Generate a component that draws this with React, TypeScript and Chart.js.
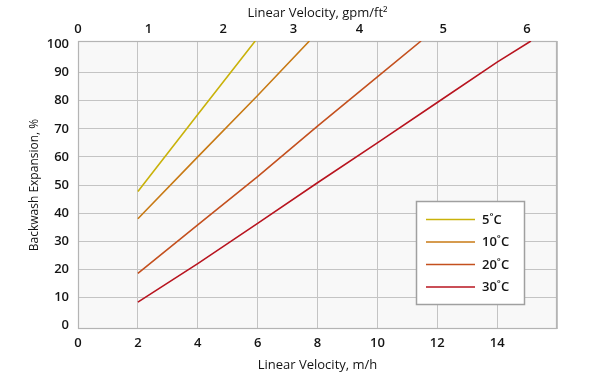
import React, { useEffect, useRef } from 'react';
import { Chart, registerables } from 'chart.js';

Chart.register(...registerables);

// ---- data ----
const seriesLabels = ['5˚C', '10˚C', '20˚C', '30˚C'];
const seriesColors = ['#c9b20a', '#c87a14', '#c4501e', '#b8141f'];

const velocity5 = [2, 4, 5.92];
const expansion5 = [47.7, 75.1, 101.3];
const velocity10 = [2, 4, 6, 7.73];
const expansion10 = [38, 60, 81.9, 101.3];
const velocity20 = [2, 4, 6, 8, 10, 11.46];
const expansion20 = [18.5, 35.8, 53, 71, 88.5, 101.3];
const velocity30 = [2, 4, 6, 8, 10, 12, 14, 15.13];
const expansion30 = [8.3, 22, 36.3, 50.8, 65, 79.4, 93.8, 101.3];

const yTicks = [0, 10, 20, 30, 40, 50, 60, 70, 80, 90, 100];
const xTickStep = 2;
const topTickPositions = [0, 2.35, 4.85, 7.2, 9.4, 12.2, 15.0]; // in m/h
const topTickLabels = ['0', '1', '2', '3', '4', '5', '6'];

const FONT = '"Open Sans", "Noto Sans", sans-serif';
const TEXT = '#141414';

const toPoints = (xs: number[], ys: number[]) => xs.map((x, i) => ({ x, y: ys[i] }));

const framePlugin = {
  id: 'frame',
  beforeDraw(chart: any) {
    const { ctx, chartArea: a } = chart;
    ctx.save();
    ctx.fillStyle = '#f8f8f8';
    ctx.fillRect(a.left, a.top, a.right - a.left, a.bottom - a.top);
    ctx.restore();
  },
  beforeDatasetsDraw(chart: any) {
    const { ctx, chartArea: a } = chart;
    ctx.save();
    ctx.strokeStyle = '#b4b4b4';
    ctx.lineWidth = 1.2;
    ctx.strokeRect(a.left + 0.5, a.top + 0.5, a.right - a.left - 1, a.bottom - a.top - 1);
    ctx.restore();
  },
  afterDraw(chart: any) {
    const { ctx } = chart;
    const x0 = 416.5, y0 = 201.5, w = 108, h = 103;
    ctx.save();
    ctx.fillStyle = '#ffffff';
    ctx.fillRect(x0, y0, w, h);
    ctx.strokeStyle = '#a0a0a0';
    ctx.lineWidth = 1.5;
    ctx.strokeRect(x0, y0, w, h);
    ctx.font = `600 13px ${FONT}`;
    ctx.textBaseline = 'middle';
    ctx.fillStyle = TEXT;
    chart.data.datasets.forEach((ds: any, i: number) => {
      const y = 219.5 + i * 22.5;
      ctx.strokeStyle = ds.borderColor;
      ctx.lineWidth = 1.6;
      ctx.beginPath();
      ctx.moveTo(426, y);
      ctx.lineTo(475, y);
      ctx.stroke();
      ctx.fillText(ds.label, 482, y + 0.5);
    });
    ctx.restore();
  },
};

export default function App() {
  const ref = useRef<HTMLCanvasElement>(null);
  useEffect(() => {
    document.body.style.margin = '0';
    const series = [
      toPoints(velocity5, expansion5),
      toPoints(velocity10, expansion10),
      toPoints(velocity20, expansion20),
      toPoints(velocity30, expansion30),
    ];
    const chart = new Chart(ref.current as HTMLCanvasElement, {
      type: 'line',
      data: {
        datasets: series.map((d, i) => ({
          label: seriesLabels[i],
          data: d,
          borderColor: seriesColors[i],
          backgroundColor: seriesColors[i],
          borderWidth: 1.6,
          pointRadius: 0,
          tension: 0,
          fill: false,
        })),
      },
      options: {
        animation: false,
        responsive: false,
        devicePixelRatio: 1,
        layout: { padding: { left: 0, right: 43, top: 0, bottom: 0 } },
        plugins: { legend: { display: false }, tooltip: { enabled: false } },
        scales: {
          x: {
            type: 'linear',
            position: 'bottom',
            min: 0,
            max: 16,
            ticks: {
              stepSize: xTickStep,
              autoSkip: false,
              maxRotation: 0,
              padding: 6,
              color: TEXT,
              font: { family: FONT, size: 13, weight: '600' },
              callback: (v: any) => (v >= 16 ? '' : String(v)),
            },
            grid: { color: '#c4c4c4', lineWidth: 1, drawTicks: false },
            border: { display: false },
            title: {
              display: true,
              text: 'Linear Velocity, m/h',
              color: TEXT,
              font: { family: FONT, size: 13 },
              padding: { top: 0, bottom: 4 },
            },
            afterFit: (s: any) => {
              s.height = 48;
            },
          },
          x2: {
            type: 'linear',
            position: 'top',
            min: 0,
            max: 16,
            afterBuildTicks: (s: any) => {
              s.ticks = topTickPositions.map((v) => ({ value: v }));
            },
            ticks: {
              autoSkip: false,
              maxRotation: 0,
              padding: 4,
              color: TEXT,
              font: { family: FONT, size: 13, weight: '600' },
              callback: (_v: any, i: number) => topTickLabels[i],
            },
            grid: { display: false, drawTicks: false },
            border: { display: false },
            title: {
              display: true,
              text: 'Linear Velocity, gpm/ft²',
              color: TEXT,
              font: { family: FONT, size: 13 },
              padding: { top: 5, bottom: 0 },
            },
            afterFit: (s: any) => {
              s.height = 41;
            },
          },
          y: {
            type: 'linear',
            min: -1.3,
            max: 101.3,
            afterBuildTicks: (s: any) => {
              s.ticks = yTicks.map((v) => ({ value: v }));
            },
            ticks: {
              autoSkip: false,
              padding: 9,
              color: TEXT,
              font: { family: FONT, size: 13, weight: '600' },
            },
            grid: {
              drawTicks: false,
              lineWidth: 1,
              color: (c: any) =>
                c.tick && (c.tick.value === 0 || c.tick.value === 100) ? 'rgba(0,0,0,0)' : '#c4c4c4',
            },
            border: { display: false },
            title: {
              display: true,
              text: 'Backwash Expansion, %',
              color: TEXT,
              font: { family: FONT, size: 12 },
              padding: { top: 27, bottom: 0 },
            },
            afterFit: (s: any) => {
              s.width = 78;
            },
          },
        },
      },
      plugins: [framePlugin],
    } as any);
    return () => chart.destroy();
  }, []);
  return <canvas ref={ref} width={600} height={377} style={{ display: 'block' }} />;
}
